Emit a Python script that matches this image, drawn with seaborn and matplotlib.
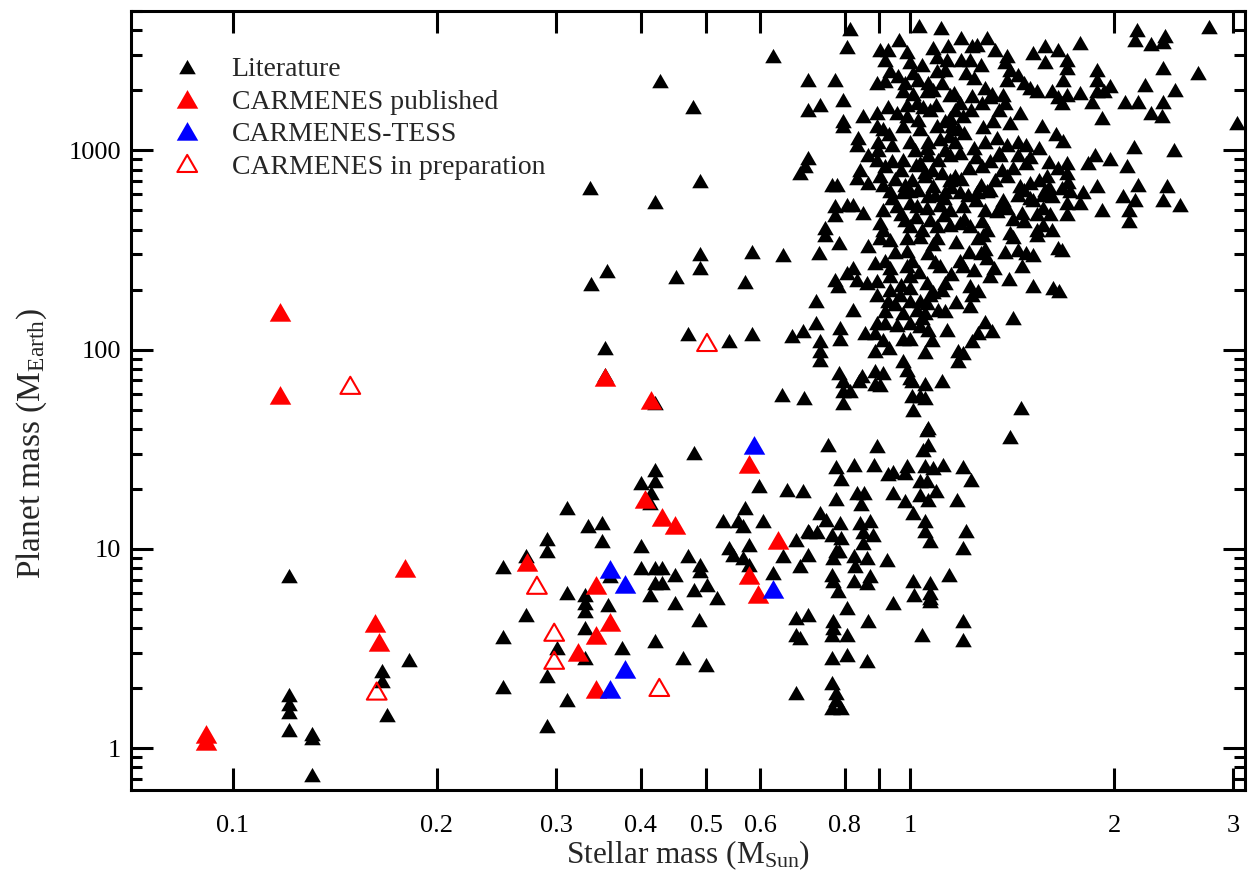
import numpy as np
import pandas as pd
import seaborn as sns
import matplotlib.pyplot as plt
from matplotlib.path import Path
from matplotlib.ticker import FixedLocator, FixedFormatter, NullLocator, LogLocator, NullFormatter

# Literature planets: stellar mass (M_Sun) and planet mass (M_Earth)
lit_mstar = [
    0.121, 0.121, 0.121, 0.121, 0.121, 0.131, 0.131, 0.131, 0.166, 0.166, 0.169, 0.182,
    0.337, 0.338, 0.357, 0.427, 0.420, 0.478, 0.490, 0.490, 0.490, 0.451, 0.570, 0.584, 0.649, 0.627,
    0.354, 0.354, 0.420, 0.470, 0.539, 0.584, 0.669, 0.695, 0.647, 0.697, 0.480, 0.420, 0.420, 0.400, 0.414, 0.413, 0.598, 0.658, 0.695,
    0.570, 0.529, 0.557, 0.567, 0.606, 0.707, 0.311, 0.334, 0.351, 0.351, 0.291, 0.291, 0.271, 0.250,
    0.400, 0.470, 0.490, 0.490, 0.400, 0.420, 0.430, 0.420, 0.430, 0.450, 0.413, 0.450, 0.480, 0.501, 0.519, 0.360,
    0.331, 0.331, 0.331, 0.358, 0.311, 0.271, 0.331, 0.250, 0.301, 0.331, 0.375, 0.420, 0.461, 0.500, 0.291, 0.250, 0.311, 0.291, 0.488, 0.679,
    0.707, 0.679, 0.688, 0.679, 0.649, 0.679, 0.627, 0.688, 0.707, 0.539, 0.548, 0.567, 0.578, 0.578,
    0.796, 0.796, 0.815, 0.841, 0.903, 1.007, 1.052, 1.115, 1.007, 1.052, 1.010, 1.063, 1.063, 1.045, 0.757, 0.894,
    0.778, 0.827, 0.885, 0.928, 0.944, 0.983, 1.052, 1.081, 1.119, 1.198, 1.230, 1.035, 1.060, 0.791,
    0.778, 0.835, 0.855, 0.847, 0.944, 0.983, 1.035, 1.063, 1.093, 1.173, 1.010, 0.736, 0.751, 0.788, 0.844, 0.873, 1.052,
    0.709, 0.729, 0.767, 0.791, 0.852, 0.882, 0.852, 1.052, 1.070, 1.210, 1.198,
    0.778, 0.785, 0.770, 0.827, 0.829, 0.864, 0.925, 0.767, 0.770, 0.783, 0.827, 0.873, 0.864, 1.010, 1.070, 1.142,
    1.014, 1.070, 1.070, 1.070, 0.944, 0.807, 0.770, 0.770, 0.767, 0.807, 0.867, 1.040, 1.198, 1.198, 0.767, 0.807,
    0.864, 0.767, 0.778, 0.778, 0.767, 0.791, 1.459, 1.405,
    0.815, 0.807, 0.707, 0.775, 0.796, 0.736, 0.707, 0.852, 0.796, 0.796, 0.838, 0.835, 0.867, 0.707,
    0.700, 0.688, 0.844, 0.835, 0.867, 0.767, 0.780, 0.775, 0.807, 0.824, 0.775, 0.852, 0.749, 0.749,
    0.785, 0.867, 0.734, 0.824, 0.807, 0.775, 0.835, 0.864, 0.783, 0.726, 0.824, 0.726, 0.736, 0.736, 0.736, 0.788, 0.788, 0.858, 0.785,
    0.796, 0.849,
    1.031, 1.111, 0.963, 0.903, 0.928, 0.990, 1.081, 1.138, 1.190, 1.235, 1.256, 1.300, 1.335, 1.391, 1.520, 1.580, 1.650, 1.580,
    0.918, 1.000, 1.040, 1.096, 1.134, 1.190, 1.226, 1.270, 1.380, 0.934, 1.010, 1.096, 1.126, 1.210, 1.240, 1.405, 1.440,
    0.894, 0.918, 0.983, 1.027, 1.063, 1.115, 1.390, 1.470, 1.500, 1.540, 1.620, 0.977, 1.010, 1.060, 1.081, 1.146, 1.320, 1.370, 1.650, 0.894, 0.928,
    0.957, 0.990, 1.024, 1.045, 1.070, 1.165, 1.185, 1.235, 1.277, 1.310, 1.350, 1.380, 1.453, 1.198, 1.146, 1.566, 1.640,
    0.894, 0.912, 0.977, 1.027, 1.035, 1.096, 1.126, 1.153, 1.177, 1.280, 1.326, 1.405,
    0.897, 0.897, 0.941, 1.000, 1.017, 1.063, 1.108, 1.126, 1.165, 1.240, 1.290, 1.344, 1.390, 1.440, 1.480, 1.358, 1.440, 1.480,
    0.894, 0.918, 0.941, 0.977, 1.035, 1.063, 1.100, 1.146, 1.185, 1.277, 1.310, 1.367, 1.390, 1.594, 1.650,
    0.903, 0.912, 0.983, 1.007, 1.052, 1.078, 1.115, 1.146, 1.165, 1.500, 1.550, 1.580, 1.270, 1.310, 1.335,
    0.934, 0.977, 1.000, 1.027, 1.063, 1.089, 1.126, 1.185, 1.218, 1.256, 1.300, 1.370, 1.440, 1.470, 1.520, 1.570, 1.620,
    0.912, 0.957, 1.000, 1.024, 1.060, 1.108, 1.146, 1.198, 1.290, 1.344, 1.390, 1.460, 1.540, 1.570, 1.610,
    0.903, 0.912, 0.983, 1.000, 1.040, 1.070, 1.096, 1.146, 1.185, 1.226, 1.277, 1.300, 1.405, 1.470, 1.540, 1.570, 1.620,
    0.903, 0.934, 0.990, 1.035, 1.096, 1.260, 1.280, 1.420, 1.540, 1.650,
    0.888, 0.918, 0.934, 0.990, 1.007, 0.990, 1.063, 1.089, 1.108, 1.185, 1.198, 1.240, 1.270, 1.290, 1.300, 1.310, 1.440, 1.480, 1.520, 1.460, 1.520, 1.627,
    0.894, 0.934, 0.934, 1.000, 1.000, 1.060, 1.070, 1.126, 1.115, 1.226, 1.235, 1.226, 1.260,
    0.894, 0.928, 0.967, 1.000, 1.035, 1.060, 0.918, 0.977, 1.024, 1.052, 1.126,
    0.894, 0.918, 0.957, 1.000, 1.035, 1.063, 1.134, 1.290, 1.320, 1.260, 1.235, 1.420,
    0.888, 0.912, 0.977, 1.000, 1.078, 0.888, 1.177, 1.198, 1.177, 0.977,
    0.888, 0.910, 0.990, 1.000, 0.888, 1.035, 1.060, 0.990,
    2.164, 2.150, 2.270, 2.380, 2.360, 2.765, 1.783, 1.706, 2.360, 2.655, 1.888, 1.888, 1.706, 1.680, 1.974,
    1.783, 1.888, 1.930, 1.706, 2.223, 2.463, 2.078, 2.170, 2.360, 1.857, 1.677, 2.270, 2.355, 1.922, 3.040,
    1.680, 2.140, 2.450, 1.876, 1.830, 1.974, 2.090, 1.706, 1.706, 1.712, 2.170, 1.888, 2.390, 1.677,
    1.720, 1.796, 2.064, 2.150, 2.360, 2.500, 1.706, 1.783, 1.922, 2.100, 1.706, 2.100, 1.677, 1.660,
    # densely packed core of the giant-planet cloud
    0.950, 0.970, 1.020, 1.050, 1.080, 1.120, 1.150, 1.190, 1.220, 1.250,
    1.060, 1.140, 1.200, 0.930, 0.990, 1.090, 1.160, 1.290, 1.230, 0.960,
    1.020, 1.120, 1.200, 1.250, 0.940, 0.970, 1.080, 1.170, 1.220, 0.950,
    1.030, 1.150, 0.970, 1.080, 0.950, 1.040, 1.100, 1.170, 0.930, 1.050,
    1.350, 1.420, 1.500, 1.550, 1.600, 1.450, 1.360, 1.420, 1.500, 1.600, 1.380, 1.330, 1.400,
]
lit_mplanet = [
    7.1, 1.80, 1.62, 1.48, 1.21, 1.15, 1.10, 0.715, 2.38, 2.12, 1.43, 2.70,
    631, 208, 242, 2170, 537, 1607, 684, 294, 250, 225, 213, 301, 291, 2900,
    99, 72.7, 52.6, 117, 108, 117, 114, 121, 57.7, 55.7, 29.5, 24.3, 21.4, 20.9, 18.6, 16.6, 20.2, 19.3, 19.0,
    15.6, 13.5, 13.5, 12.7, 13.5, 12.0, 15.6, 12.7, 13.1, 10.7, 11.0, 9.5, 8.98, 7.92,
    10.1, 8.98, 8.10, 7.56, 7.83, 7.83, 7.83, 6.58, 6.58, 7.2, 5.72, 5.22, 6.06, 6.43, 5.53, 7.13,
    5.72, 5.22, 4.75, 5.1, 5.86, 4.54, 3.91, 3.52, 3.10, 2.77, 3.10, 3.36, 2.77, 2.55, 2.24, 1.98, 1.70, 1.26, 4.28, 4.39,
    4.54, 3.60, 3.48, 1.84, 8.98, 10.8, 7.37, 8.0, 9.1, 9.85, 9.1, 8.8, 10.2, 8.1,
    60.4, 52.6, 60.4, 68, 65, 68, 66, 68, 57, 55.7, 48.7, 39.4, 32.4, 30.6, 32.4, 32.0,
    25.1, 25.7, 25.7, 23.1, 23.7, 23.4, 25.4, 24.8, 25.7, 25.1, 21.6, 21.4, 21.4, 21.8,
    17.3, 18.6, 18.6, 16.4, 18.6, 17.0, 18.2, 17.2, 19.0, 17.2, 14.7, 14.7, 13.7, 13.2, 13.2, 13.5, 13.5,
    11.8, 11.8, 11.5, 11.1, 11.8, 11.5, 10.5, 12.0, 10.7, 12.0, 9.9,
    9.5, 9.5, 8.8, 8.98, 8.0, 8.8, 8.6, 7.2, 6.7, 6.0, 6.7, 7.1, 6.6, 6.7, 6.6, 7.2,
    5.72, 5.85, 5.53, 5.35, 5.22, 4.93, 4.24, 3.91, 3.60, 3.60, 4.24, 3.60, 4.24, 3.4, 2.77, 2.86,
    2.67, 2.07, 1.84, 1.70, 1.55, 1.55, 49.6, 35.5,
    3960, 3215, 2197, 2197, 1742, 1645, 1556, 1449, 1370, 1296, 1124, 1038, 928, 890,
    812, 752, 778, 708, 672, 653, 653, 512, 522, 522, 465, 475, 397, 368,
    334, 323, 298, 250, 237, 218, 218, 210, 203, 171, 155, 133, 108, 95.6, 86.6, 125, 110, 118, 74.3,
    68, 72,
    4100, 4000, 3490, 3110, 3110, 3050, 3200, 3260, 3570, 3260, 3300, 3570, 3110, 2900, 3000, 3260, 3110, 2700,
    2760, 2700, 2620, 2860, 2760, 2760, 2760, 2620, 2720, 2450, 2390, 2450, 2480, 2390, 2260, 2480, 2330,
    2130, 2180, 2130, 2200, 2130, 2130, 2200, 2130, 2000, 1930, 1930, 1930, 1880, 1930, 1960, 1860, 1880, 1860, 1800, 1500, 1620,
    1500, 1650, 1680, 1620, 1560, 1560, 1680, 1830, 1680, 1800, 1560, 1680, 1500, 1450, 1420, 1300, 1180,
    1300, 1250, 1300, 1390, 1250, 1300, 1370, 1300, 1250, 1280, 1370, 1340,
    1070, 980, 1038, 1070, 980, 1070, 1110, 980, 1070, 1000, 1070, 1124, 1038, 1070, 1038, 930, 928, 840,
    870, 812, 860, 870, 840, 928, 870, 930, 945, 812, 860, 778, 725, 725, 795,
    725, 653, 653, 690, 725, 778, 752, 690, 730, 672, 690, 614, 653, 614, 690,
    610, 600, 610, 614, 575, 584, 600, 600, 584, 600, 610, 550, 584, 614, 550, 584, 575,
    490, 512, 530, 512, 500, 522, 490, 512, 490, 482, 500, 475, 466, 500, 466,
    420, 388, 435, 406, 388, 435, 406, 412, 420, 406, 430, 388, 375, 430, 388, 412, 388,
    353, 346, 353, 360, 353, 353, 368, 360, 368, 315,
    265, 272, 250, 304, 272, 256, 298, 270, 256, 272, 256, 245, 298, 314, 280, 228, 310, 298, 290, 256, 203, 199,
    215, 228, 195, 228, 200, 210, 183, 210, 195, 203, 184, 161, 192,
    184, 172, 183, 172, 172, 167, 152, 149, 155, 149, 152,
    133, 133, 130, 133, 128, 122, 122, 135, 121, 118, 108, 140,
    118, 109, 111, 111, 109, 95.6, 95.6, 93.6, 85.6, 85.6,
    76, 74.3, 77, 70, 66, 57, 38.5, 25.4,
    3930, 3490, 3340, 3660, 3400, 4050, 3370, 2760, 2520, 2390, 2480, 2200, 2520, 2200, 2050,
    1900, 1930, 1930, 1860, 2070, 1970, 1700, 1700, 1700, 1700, 1680, 1500, 1450, 1420, 1340,
    1090, 1010, 980, 930, 840, 880, 812, 840, 752, 680, 653, 645, 645, 630,
    610, 600, 575, 550, 550, 522, 530, 530, 490, 490, 466, 430, 310, 192,
    # densely packed core of the giant-planet cloud
    700, 780, 820, 760, 650, 560, 640, 700, 800, 900,
    1000, 1150, 1200, 1180, 1450, 1650, 1900, 2000, 1550, 2300,
    450, 460, 440, 550, 560, 470, 330, 340, 300, 300,
    240, 235, 205, 190, 165, 140, 155, 170, 100, 95,
    950, 800, 900, 1000, 850, 650, 520, 440, 560, 640, 300, 250, 220,
]

# CARMENES published planets
pub_mstar = [0.0912, 0.0912, 0.1173, 0.1173, 0.1795, 0.162, 0.164, 0.272, 0.343, 0.360, 0.343,
             0.323, 0.343, 0.354, 0.414, 0.406, 0.430, 0.450, 0.578, 0.638, 0.577, 0.596]
pub_mplanet = [1.14, 1.05, 149, 57, 7.73, 4.1, 3.29, 8.28, 6.35, 4.14, 3.56,
               2.93, 1.91, 70.2, 53.8, 17.1, 13.9, 12.7, 25.7, 10.7, 7.13, 5.72]

# CARMENES-TESS planets
tess_mstar = [0.588, 0.360, 0.379, 0.379, 0.360, 0.627]
tess_mplanet = [32, 7.64, 6.43, 2.41, 1.91, 6.06]

# CARMENES in preparation
prep_mstar = [0.149, 0.163, 0.501, 0.281, 0.298, 0.298, 0.426]
prep_mplanet = [64, 1.87, 105, 6.35, 3.69, 2.67, 1.95]

xticks = [0.1, 0.2, 0.3, 0.4, 0.5, 0.6, 0.8, 0.9, 1, 2, 3]
xticklabels = ['0.1', '0.2', '0.3', '0.4', '0.5', '0.6', '0.8', '', '1', '2', '3']
yticks = [1, 10, 100, 1000]
yticklabels = ['1', '10', '100', '1000']

sns.set_style('ticks')
plt.rcParams['font.family'] = ['Liberation Serif', 'DejaVu Serif']
plt.rcParams['mathtext.fontset'] = 'custom'
plt.rcParams['mathtext.rm'] = 'Liberation Serif'
plt.rcParams['mathtext.it'] = 'Liberation Serif:italic'

fig = plt.figure(figsize=(12.49, 8.71), dpi=100)
ax = fig.add_axes([131 / 1249, 1 - 790 / 871, (1245 - 131) / 1249, (790 - 11) / 871])

# equilateral triangle marker (closed so the open symbols get all three sides)
tri = Path([(-1, -0.577), (1, -0.577), (0, 1.155), (-1, -0.577)], closed=True)

sns.scatterplot(x=lit_mstar, y=lit_mplanet, marker=tri, s=190, color='black',
                linewidth=0, label='Literature', ax=ax, zorder=3)
sns.scatterplot(x=pub_mstar, y=pub_mplanet, marker=tri, s=320, color='#ff0000',
                linewidth=0, label='CARMENES published', ax=ax, zorder=4)
sns.scatterplot(x=tess_mstar, y=tess_mplanet, marker=tri, s=320, color='#0000ff',
                linewidth=0, label='CARMENES-TESS', ax=ax, zorder=5)
sns.scatterplot(x=prep_mstar, y=prep_mplanet, marker=tri, s=270, color='#ff0000',
                facecolor='none', edgecolor='#ff0000', linewidth=1.5,
                label='CARMENES in preparation', ax=ax, zorder=6)

ax.set_xscale('log')
ax.set_yscale('log')
ax.set_xlim(0.0707, 3.12)
ax.set_ylim(0.616, 5000)

ax.xaxis.set_major_locator(FixedLocator(xticks))
ax.xaxis.set_major_formatter(FixedFormatter(xticklabels))
ax.xaxis.set_minor_locator(NullLocator())
ax.yaxis.set_major_locator(FixedLocator(yticks))
ax.yaxis.set_major_formatter(FixedFormatter(yticklabels))
ax.yaxis.set_minor_locator(LogLocator(base=10, subs=np.arange(2, 10)))
ax.yaxis.set_minor_formatter(NullFormatter())

ax.tick_params(which='both', direction='in', top=True, right=True, width=2.2,
               colors='black', labelsize=19)
ax.tick_params(which='major', length=15.5)
ax.tick_params(which='minor', length=8)
ax.tick_params(axis='x', pad=18)
ax.tick_params(axis='y', pad=7)
for sp in ax.spines.values():
    sp.set_linewidth(2.2)
    sp.set_color('black')
    sp.set_visible(True)

ax.set_xlabel(r'Stellar mass (M$_{\rm Sun}$)', fontsize=22.5, labelpad=1)
ax.set_ylabel(r'Planet mass (M$_{\rm Earth}$)', fontsize=24)
ax.yaxis.set_label_coords(-0.074, 0.445)

ax.legend(loc='upper left', bbox_to_anchor=(0.038, 0.941), frameon=False, fontsize=20,
          handlelength=1.0, handletextpad=1.1, labelspacing=0.25, borderpad=0,
          borderaxespad=0, scatterpoints=1)

fig.savefig('out.png', dpi=100)
